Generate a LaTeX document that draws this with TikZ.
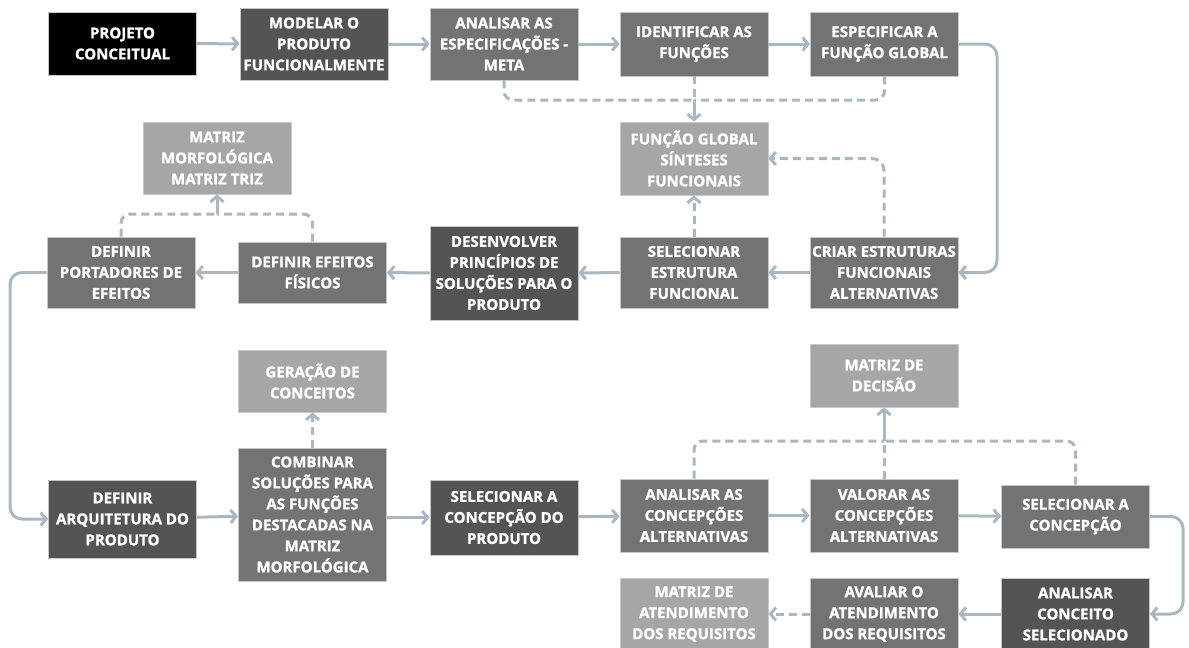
\documentclass[tikz,border=0pt]{standalone}
\usepackage{fontspec}
\setmainfont{Open Sans}[BoldFeatures={FakeBold=1.3}]
\usetikzlibrary{arrows.meta}
\definecolor{cdark}{HTML}{545454}
\definecolor{cmid}{HTML}{737373}
\definecolor{clight}{HTML}{A6A6A6}
\definecolor{conn}{HTML}{AAB7C0}
\begin{document}
\begin{tikzpicture}[x=1pt,y=-1pt,
  bx/.style={draw=white!78!black, line width=0.8pt, text=white,
    font=\fontsize{15}{21}\selectfont\bfseries, align=center,
    inner sep=0pt, minimum width=148pt},
  tip/.style={-{Straight Barb[length=5.5pt,width=13pt]}},
  ar/.style={draw=conn, line width=3pt, tip},
  ln/.style={draw=conn, line width=3pt},
  da/.style={draw=conn, line width=3pt, dash pattern=on 8pt off 5pt}]
\useasboundingbox (0,0) rectangle (1189,648);
% row 1
\node[bx,fill=black,minimum height=63pt] (proj) at (122.5,43.5) {PROJETO\\CONCEITUAL};
\node[bx,fill=cdark,minimum height=72pt] (mod) at (314,44) {MODELAR O\\PRODUTO\\FUNCIONALMENTE};
\node[bx,fill=cmid,minimum height=72pt] (anesp) at (504,44) {ANALISAR AS\\ESPECIFICAÇÕES -\\META};
\node[bx,fill=cmid,minimum height=64pt] (ident) at (694,44) {IDENTIFICAR AS\\FUNÇÕES};
\node[bx,fill=cmid,minimum height=64pt] (espec) at (884.5,44) {ESPECIFICAR A\\FUNÇÃO GLOBAL};
% row 2
\node[bx,fill=clight,minimum height=73pt] (fglob) at (694,158.5) {FUNÇÃO GLOBAL\\SÍNTESES\\FUNCIONAIS};
\node[bx,fill=clight,minimum height=72pt] (matmorf) at (217,158) {MATRIZ\\MORFOLÓGICA\\MATRIZ TRIZ};
% row 3
\node[bx,fill=cmid,minimum height=71pt] (portad) at (121,272.5) {DEFINIR\\PORTADORES DE\\EFEITOS};
\node[bx,fill=cmid,minimum height=61pt] (efeitos) at (312.5,272.5) {DEFINIR EFEITOS\\FÍSICOS};
\node[bx,fill=cdark,minimum height=94pt] (desenv) at (504,273) {DESENVOLVER\\PRINCÍPIOS DE\\SOLUÇÕES PARA O\\PRODUTO};
\node[bx,fill=cmid,minimum height=71pt] (selest) at (694,272.5) {SELECIONAR\\ESTRUTURA\\FUNCIONAL};
\node[bx,fill=cmid,minimum height=71pt] (criar) at (884,272.5) {CRIAR ESTRUTURAS\\FUNCIONAIS\\ALTERNATIVAS};
% row 4
\node[bx,fill=clight,minimum height=62pt] (geracao) at (312.5,381) {GERAÇÃO DE\\CONCEITOS};
\node[bx,fill=clight,minimum height=63pt] (matdec) at (884,375.5) {MATRIZ DE\\DECISÃO};
% row 5
\node[bx,fill=cdark,minimum height=78pt] (arq) at (122.5,519) {DEFINIR\\ARQUITETURA DO\\PRODUTO};
\node[bx,fill=cmid,minimum height=133pt] (comb) at (312.5,514.5) {COMBINAR\\SOLUÇÕES PARA\\AS FUNÇÕES\\DESTACADAS NA\\MATRIZ\\MORFOLÓGICA};
\node[bx,fill=cdark,minimum height=75pt] (selconc) at (504,517.5) {SELECIONAR A\\CONCEPÇÃO DO\\PRODUTO};
\node[bx,fill=cmid,minimum height=73pt] (analconc) at (694,515.5) {ANALISAR AS\\CONCEPÇÕES\\ALTERNATIVAS};
\node[bx,fill=cmid,minimum height=73pt] (valorar) at (884,515.5) {VALORAR AS\\CONCEPÇÕES\\ALTERNATIVAS};
\node[bx,fill=cmid,minimum height=63pt] (selc) at (1075.5,516.5) {SELECIONAR A\\CONCEPÇÃO};
% row 6
\node[bx,fill=clight,minimum height=72pt] (matatend) at (694,614) {MATRIZ DE\\ATENDIMENTO\\DOS REQUISITOS};
\node[bx,fill=cmid,minimum height=72pt] (avaliar) at (884,614) {AVALIAR O\\ATENDIMENTO\\DOS REQUISITOS};
\node[bx,fill=cdark,minimum height=72pt] (analsel) at (1075.5,614) {ANALISAR\\CONCEITO\\SELECIONADO};
% solid flow
\draw[ar] (proj) -- (mod);
\draw[ar] (mod) -- (anesp);
\draw[ar] (anesp) -- (ident);
\draw[ar] (ident) -- (espec);
\draw[ar,rounded corners=12pt] (espec.east) -- (997,44) -- (997,272.5) -- (criar.east);
\draw[ar] (criar) -- (selest);
\draw[ar] (selest) -- (desenv);
\draw[ar] (desenv) -- (efeitos);
\draw[ar] (efeitos) -- (portad);
\draw[ar,rounded corners=12pt] (portad.west) -- (10,272.5) -- (10,519) -- (arq.west);
\draw[ar] (arq) -- (comb);
\draw[ar] (comb.east |- selconc.west) -- (selconc.west);
\draw[ar] (selconc) -- (analconc);
\draw[ar] (analconc) -- (valorar);
\draw[ar] (valorar) -- (selc);
\draw[ar,rounded corners=12pt] (selc.east) -- (1183,516.5) -- (1183,614) -- (analsel.east);
\draw[ar] (analsel) -- (avaliar);
% dashed links
\draw[da,tip] (avaliar) -- (matatend);
\coordinate (m1) at (694,100);
\draw[da,rounded corners=9pt] (anesp.south) -- (anesp.south |- m1) -- (m1);
\draw[da,rounded corners=9pt] (espec.south) -- (espec.south |- m1) -- (m1);
\draw[da] (ident.south) -- (m1);
\draw[ar] (m1) -- (fglob.north);
\draw[da,tip,rounded corners=12pt] (criar.north) -- (criar.north |- fglob.east) -- (fglob.east);
\draw[da,tip] (selest.north) -- (fglob.south);
\coordinate (m3) at (217,214);
\draw[da,rounded corners=9pt] (portad.north) -- (portad.north |- m3) -- (m3);
\draw[da,rounded corners=9pt] (efeitos.north) -- (efeitos.north |- m3) -- (m3);
\draw[ar] (m3) -- (matmorf.south);
\draw[da,tip] (comb.north) -- (geracao.south);
\coordinate (m2) at (884,441);
\draw[da,rounded corners=9pt] (analconc.north) -- (analconc.north |- m2) -- (m2);
\draw[da,rounded corners=9pt] (selc.north) -- (selc.north |- m2) -- (m2);
\draw[da] (valorar.north) -- (m2);
\draw[ar] (m2) -- (matdec.south);
\end{tikzpicture}
\end{document}
